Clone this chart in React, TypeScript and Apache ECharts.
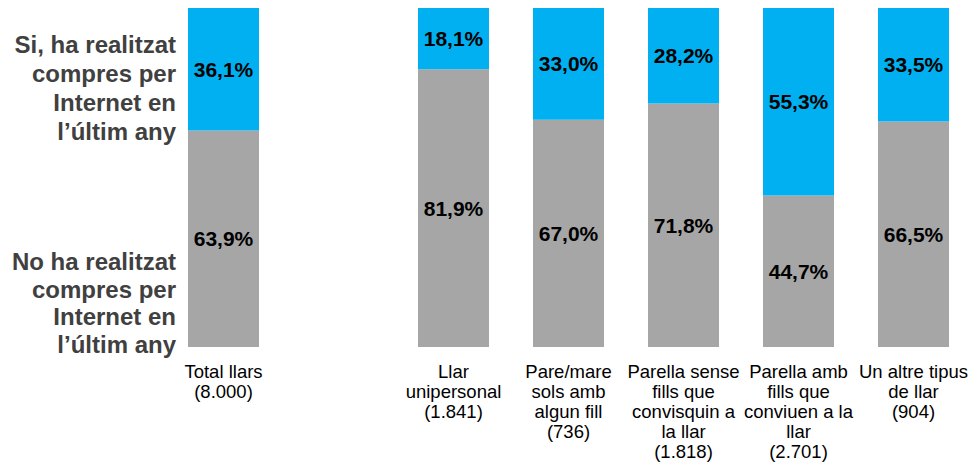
import React, { useEffect, useRef } from "react";
import * as echarts from "echarts";

const categories = [
  "Total llars\n(8.000)",
  "",
  "Llar\nunipersonal\n(1.841)",
  "Pare/mare\nsols amb\nalgun fill\n(736)",
  "Parella sense\nfills que\nconvisquin a\nla llar\n(1.818)",
  "Parella amb\nfills que\nconviuen a la\nllar\n(2.701)",
  "Un altre tipus\nde llar\n(904)",
];
const noValues = [63.9, null, 81.9, 67.0, 71.8, 44.7, 66.5];
const siValues = [36.1, null, 18.1, 33.0, 28.2, 55.3, 33.5];
const siLabel = "Si, ha realitzat\ncompres per\nInternet en\nl’últim any";
const noLabel = "No ha realitzat\ncompres per\nInternet en\nl’últim any";

const FONT = "'Liberation Sans', Arial, sans-serif";

const fmt = (p: any) =>
  p.value == null ? "" : Number(p.value).toFixed(1).replace(".", ",") + "%";

export default function App() {
  const ref = useRef<HTMLDivElement>(null);
  useEffect(() => {
    const chart = echarts.init(ref.current!, undefined, { renderer: "svg" });
    const labelStyle = {
      show: true,
      position: "inside" as const,
      formatter: fmt,
      color: "#000",
      fontFamily: FONT,
      fontWeight: "bold" as const,
      fontSize: 21,
    };
    chart.setOption({
      animation: false,
      grid: { left: 166, top: 8, width: 805, height: 339 },
      xAxis: {
        type: "category",
        data: categories,
        axisLine: { show: false },
        axisTick: { show: false },
        axisLabel: {
          interval: 0,
          color: "#000",
          fontFamily: FONT,
          fontSize: 18.5,
          lineHeight: 20,
          margin: 14,
        },
      },
      yAxis: { type: "value", min: 0, max: 100, show: false },
      series: [
        {
          name: "No",
          type: "bar",
          stack: "s",
          barWidth: 71,
          data: noValues,
          itemStyle: { color: "#A6A6A6" },
          label: labelStyle,
        },
        {
          name: "Si",
          type: "bar",
          stack: "s",
          barWidth: 71,
          data: siValues,
          itemStyle: { color: "#00B0F0" },
          label: labelStyle,
        },
      ],
      graphic: [
        {
          type: "text",
          x: 176,
          y: 30,
          style: {
            text: siLabel,
            align: "right",
            verticalAlign: "top",
            fill: "#404040",
            fontFamily: FONT,
            fontWeight: "bold",
            fontSize: 24,
            lineHeight: 29,
          },
        },
        {
          type: "text",
          x: 176,
          y: 248,
          style: {
            text: noLabel,
            align: "right",
            verticalAlign: "top",
            fill: "#404040",
            fontFamily: FONT,
            fontWeight: "bold",
            fontSize: 24,
            lineHeight: 27.5,
          },
        },
      ],
    });
    return () => chart.dispose();
  }, []);
  return (
    <div
      ref={ref}
      style={{ position: "absolute", left: 0, top: 0, width: 971, height: 465, background: "#fff" }}
    />
  );
}
